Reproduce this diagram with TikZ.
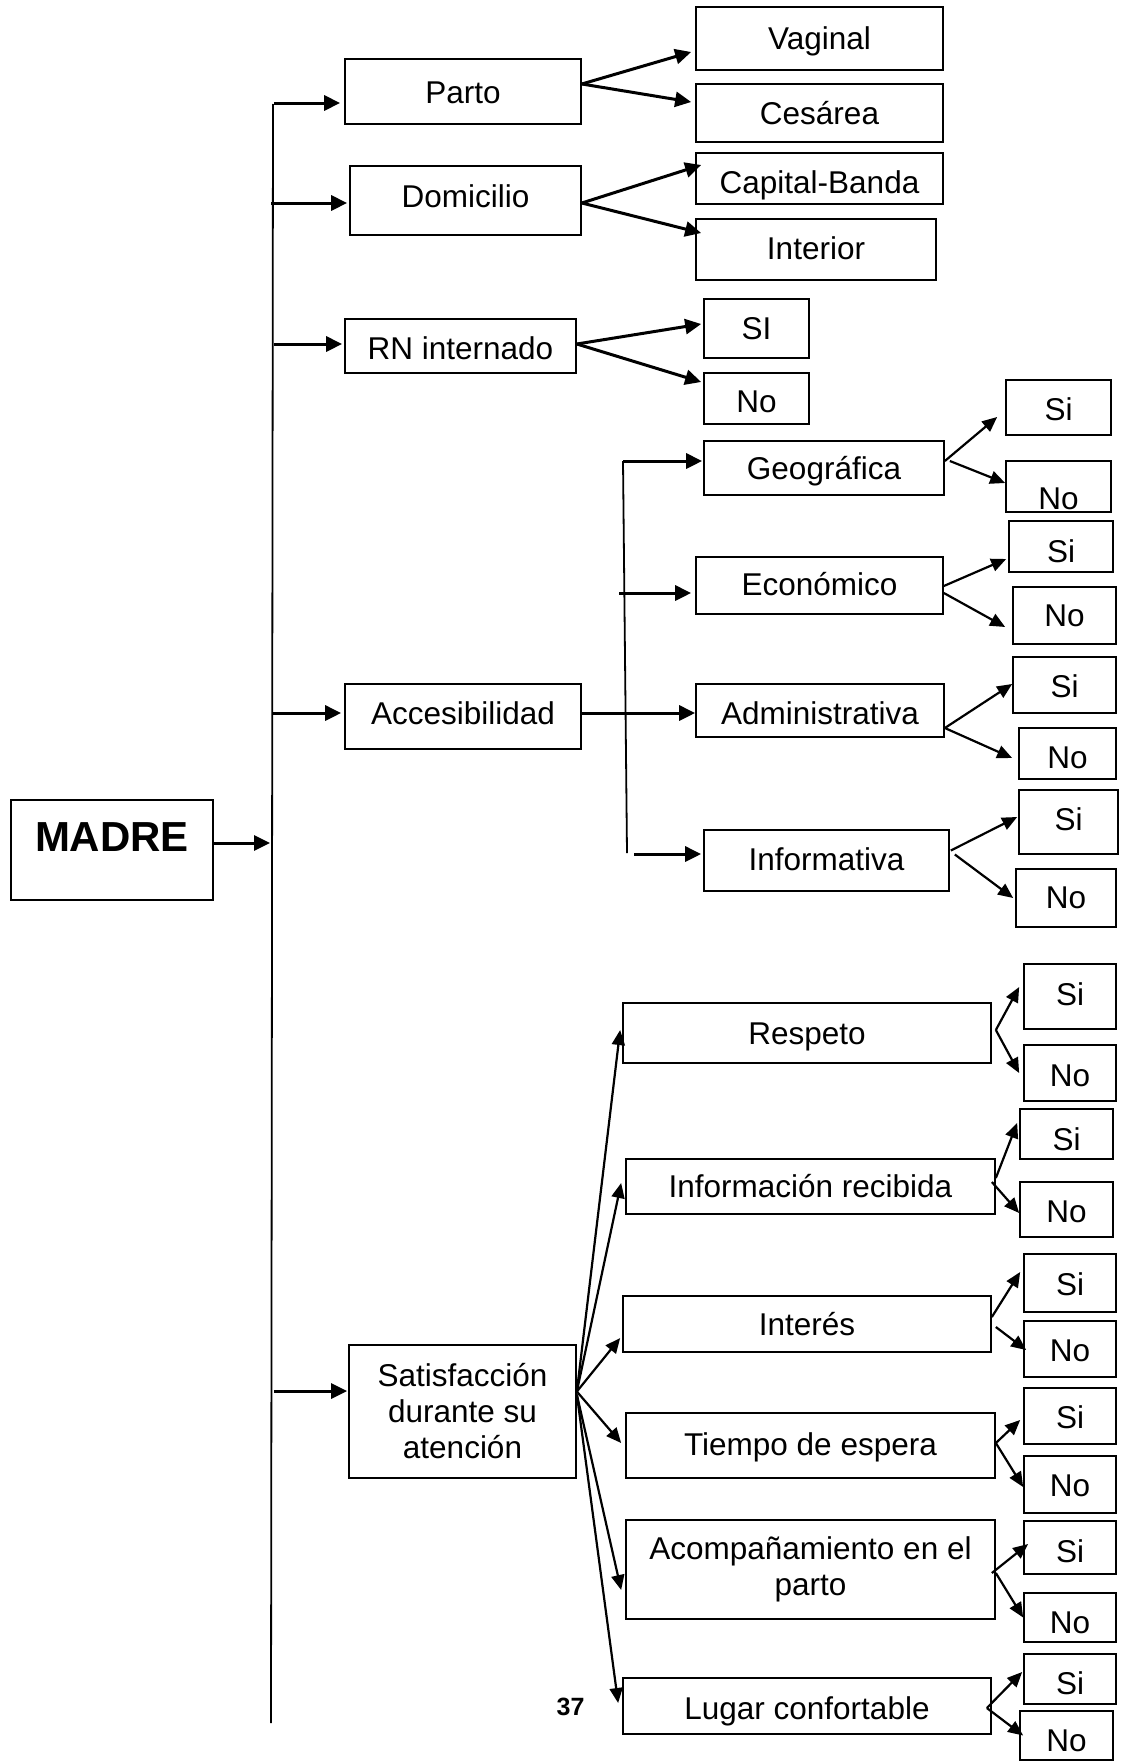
\documentclass[tikz,border=0pt]{standalone}
\usepackage{fontspec}
\setmainfont{Liberation Sans}
\usetikzlibrary{arrows.meta}
\tikzset{
  bx/.style={draw, line width=1.7pt, inner sep=0pt, align=center, font=\fontsize{31.5}{36}\selectfont},
  arr/.style={line width=3pt, -{Triangle[length=16pt,width=15pt]}},
  tarr/.style={line width=2.2pt, -{Triangle[length=15pt,width=13pt]}},
  trunk/.style={line width=1.8pt}
}
\newcommand{\sh}[2]{\raisebox{#1}[\height][\depth]{#2}}
\newcommand{\bxn}[7]{\node[bx, minimum width=#4pt, minimum height=#5pt] (#1) at (#2,#3) {\sh{#6pt}{#7}};}
\newcommand{\bxm}[6]{\node[bx, minimum width=#4pt, minimum height=#5pt] (#1) at (#2,#3) {#6};}
\begin{document}
\begin{tikzpicture}[x=1pt,y=-1pt]
\useasboundingbox[fill=white] (0,0) rectangle (1120,1761);
% level 0
\node[bx, minimum width=202pt, minimum height=100pt, font=\fontsize{42}{48}\selectfont\bfseries] (madre) at (112,850) {\sh{13pt}{MADRE}};
% level 1
\bxn{parto}{463}{91.5}{236}{65}{-1}{Parto}
\bxn{dom}{465.5}{200.5}{231}{69}{4.5}{Domicilio}
\bxn{rn}{460.5}{346}{231}{54}{-2}{RN internado}
\bxn{acc}{463}{716.5}{236}{65}{3.5}{Accesibilidad}
\bxm{sat}{462.5}{1411.5}{227}{133}{Satisfacción\\durante su\\atención}
% level 2
\bxn{vag}{819.5}{38.5}{247}{63}{-3}{Vaginal}
\bxn{ces}{819.5}{113}{247}{58}{0}{Cesárea}
\bxn{cap}{819.5}{178.5}{247}{51}{-7}{Capital-Banda}
\bxn{inter}{816}{249.5}{240}{61}{1.5}{Interior}
\bxn{rnsi}{756.5}{328.5}{105}{59}{0}{SI}
\bxn{rnno}{756.5}{398.5}{105}{51}{-3.5}{No}
\bxn{geo}{824}{468}{240}{54}{-3}{Geográfica}
\bxn{eco}{819.5}{585.5}{247}{57}{1}{Económico}
\bxn{adm}{820}{710.5}{248}{53}{-2.5}{Administrativa}
\bxn{inf}{826.5}{860.5}{245}{61}{1.5}{Informativa}
\bxn{resp}{807}{1033}{368}{60}{-4}{Respeto}
\bxn{irec}{810.5}{1186.5}{369}{55}{0}{Información recibida}
\bxn{inte}{807}{1324}{368}{56}{0}{Interés}
\bxn{tiem}{810.5}{1445.5}{369}{65}{-2}{Tiempo de espera}
\bxm{acom}{810.5}{1569.5}{369}{99}{Acompañamiento en el\\parto}
\bxn{lug}{807}{1706}{368}{56}{-5}{Lugar confortable}
% level 3
\bxn{geosi}{1058.5}{407.5}{105}{55}{-1.5}{Si}
\bxn{geono}{1058.5}{486.5}{105}{51}{-12.5}{No}
\bxn{ecosi}{1061}{546.5}{104}{51}{-4.5}{Si}
\bxn{econo}{1064.5}{615.5}{103}{57}{0}{No}
\bxn{admsi}{1064.5}{685}{103}{56}{-1}{Si}
\bxn{admno}{1067.5}{753.5}{97}{51}{-4.5}{No}
\bxn{infsi}{1068.5}{822}{99}{64}{3}{Si}
\bxn{infno}{1066}{898}{100}{58}{0}{No}
\bxn{respsi}{1070}{996.5}{92}{65}{2.5}{Si}
\bxn{respno}{1070}{1073}{92}{56}{-3}{No}
\bxn{irsi}{1066.5}{1134}{93}{50}{-5}{Si}
\bxn{irno}{1066.5}{1209.5}{93}{55}{-2.5}{No}
\bxn{intsi}{1070}{1283}{92}{58}{-1}{Si}
\bxn{intno}{1070}{1349}{92}{56}{-2}{No}
\bxn{tsi}{1070}{1416}{92}{56}{-1}{Si}
\bxn{tno}{1070}{1484.5}{92}{57}{-1.5}{No}
\bxn{asi}{1070}{1547.5}{92}{53}{-3.5}{Si}
\bxn{ano}{1070}{1617.5}{92}{49}{-5.5}{No}
\bxn{lsi}{1070}{1679}{92}{50}{-4}{Si}
\bxn{lno}{1066.5}{1735.5}{93}{49}{-5.5}{No}
% page number
\node[font=\fontsize{25}{28}\selectfont\bfseries, inner sep=0pt] (pnum) at (570.5,1707) {37};
% trunk
\coordinate (ttop) at (273,104);
\coordinate (tbot) at (271,1723);
\draw[trunk] (ttop) -- (tbot);
\coordinate (tmadre) at (270,843);
\coordinate (tparto) at (274,103);
\coordinate (tdom) at (271,203);
\coordinate (trn) at (274,344);
\coordinate (tacc) at (273,713);
\coordinate (tsat) at (274,1391);
\draw[arr] ([yshift=7pt]madre.east) -- (tmadre);
\draw[arr] (tparto) -- ([xshift=-4pt,yshift=-11.5pt]parto.west);
\draw[arr] (tdom) -- ([xshift=-2pt,yshift=-2.5pt]dom.west);
\draw[arr] (trn) -- ([xshift=-2pt,yshift=2pt]rn.west);
\draw[arr] (tacc) -- ([xshift=-3pt,yshift=3.5pt]acc.west);
\draw[arr] (tsat) -- ([xshift=-1pt,yshift=20.5pt]sat.west);
% level1 -> level2
\draw[arr] ([yshift=7.5pt]parto.east) -- ([xshift=-4pt,yshift=-13.5pt]vag.west);
\draw[arr] ([yshift=7.5pt]parto.east) -- ([xshift=-4pt,yshift=11pt]ces.west);
\draw[arr] ([yshift=-2.5pt]dom.east) -- ([xshift=6pt,yshift=13.5pt]cap.west);
\draw[arr] ([yshift=-2.5pt]dom.east) -- ([xshift=6pt,yshift=16.5pt]inter.west);
\draw[arr] ([yshift=2pt]rn.east) -- ([xshift=-2pt,yshift=4.5pt]rnsi.west);
\draw[arr] ([yshift=2pt]rn.east) -- ([xshift=-2pt,yshift=16.5pt]rnno.west);
% accesibilidad branch
\coordinate (stop) at (623,461);
\coordinate (sbot) at (627,853);
\draw[trunk] (stop) -- (sbot);
\coordinate (seco) at (619,593);
\coordinate (sinf) at (634,854);
\draw[arr] (stop) -- ([xshift=-1pt,yshift=7pt]geo.west);
\draw[arr] (seco) -- ([xshift=-4pt,yshift=-7.5pt]eco.west);
\draw[arr] ([yshift=3.5pt]acc.east) -- ([yshift=-2.5pt]adm.west);
\draw[arr] (sinf) -- ([xshift=-2pt,yshift=6.5pt]inf.west);
% satisfaccion branch
\draw[tarr] ([yshift=20pt]sat.east) -- ([xshift=-2pt,yshift=3pt]resp.west);
\draw[tarr] ([yshift=20pt]sat.east) -- ([xshift=-4pt,yshift=3.5pt]irec.west);
\draw[tarr] ([yshift=20pt]sat.east) -- ([xshift=-2pt,yshift=-14pt]inte.west);
\draw[tarr] ([yshift=20pt]sat.east) -- ([xshift=-4pt,yshift=2.5pt]tiem.west);
\draw[tarr] ([yshift=17pt]sat.east) -- ([xshift=-4pt,yshift=-20.5pt]acom.west);
\draw[tarr] ([yshift=17pt]sat.east) -- ([xshift=-4pt,yshift=3pt]lug.west);
% level2 -> Si/No
\draw[tarr] ([yshift=7pt]geo.east) -- ([xshift=-8pt,yshift=-9.5pt]geosi.west);
\draw[tarr] ([xshift=5pt,yshift=7pt]geo.east) -- ([yshift=3.5pt]geono.west);
\draw[tarr] ([yshift=-0.5pt]eco.east) -- ([xshift=-2pt,yshift=-12.5pt]ecosi.west);
\draw[tarr] ([yshift=-7.5pt]eco.east) -- ([xshift=-7pt,yshift=-11.5pt]econo.west);
\draw[tarr] ([yshift=-17.5pt]adm.east) -- ([yshift=1pt]admsi.west);
\draw[tarr] ([yshift=-17.5pt]adm.east) -- ([xshift=-6pt,yshift=-4.5pt]admno.west);
\draw[tarr] ([xshift=1pt,yshift=10pt]inf.east) -- ([xshift=-1pt,yshift=5pt]infsi.west);
\draw[tarr] ([xshift=5pt,yshift=6pt]inf.east) -- ([xshift=-2pt]infno.west);
\draw[tarr] ([xshift=4pt,yshift=3pt]resp.east) -- ([xshift=-4pt,yshift=9.5pt]respsi.west);
\draw[tarr] ([xshift=4pt,yshift=3pt]resp.east) -- ([xshift=-4pt]respno.west);
\draw[tarr] ([yshift=8.5pt]irec.east) -- ([xshift=-2pt,yshift=11pt]irsi.west);
\draw[tarr] ([xshift=-4pt,yshift=4.5pt]irec.east) -- ([yshift=-3.5pt]irno.west);
\draw[tarr] ([yshift=7pt]inte.east) -- ([xshift=-3pt,yshift=11pt]intsi.west);
\draw[tarr] ([xshift=4pt,yshift=-3pt]inte.east) -- ([xshift=3pt,yshift=-1pt]intno.west);
\draw[tarr] ([yshift=2.5pt]tiem.east) -- ([xshift=-3pt,yshift=-4pt]tsi.west);
\draw[tarr] ([yshift=2.5pt]tiem.east) -- ([yshift=-2.5pt]tno.west);
\draw[tarr] ([xshift=-4pt,yshift=-3.5pt]acom.east) -- ([xshift=5pt,yshift=3.5pt]asi.west);
\draw[tarr] ([yshift=-3.5pt]acom.east) -- ([yshift=0pt]ano.west);
\draw[tarr] ([xshift=-5pt,yshift=-2pt]lug.east) -- ([xshift=-1pt,yshift=7pt]lsi.west);
\draw[tarr] ([xshift=-5pt,yshift=-2pt]lug.east) -- ([xshift=4pt]lno.west);
\end{tikzpicture}
\end{document}
